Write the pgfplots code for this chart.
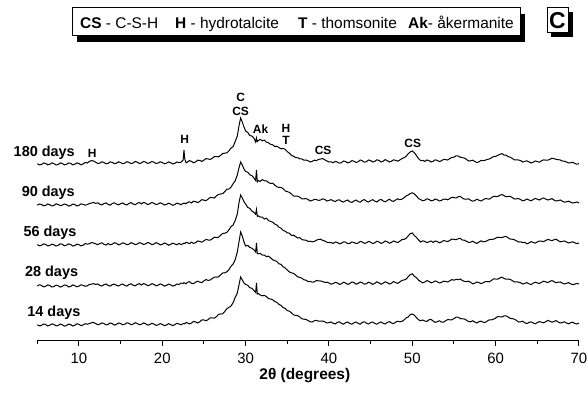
\documentclass[border=0pt]{standalone}
\usepackage{pgfplots}
\usepackage{pgfplotstable}
\pgfplotsset{compat=1.18}
\usepackage{fontspec}
\setmainfont{Liberation Sans}

\pgfplotstableread{
x d14 d28 d56 d90 d180
5 0.3 0.0 0.4 -0.2 0.3
5.25 -0.9 1.2 -0.8 1.0 -0.9
5.5 -0.4 0.6 -0.3 0.5 -0.5
5.75 1.0 -0.9 1.1 -0.8 1.0
6 0.5 -0.3 0.6 -0.4 0.6
6.25 -1.0 1.1 -0.9 1.0 -0.8
6.5 -0.2 0.5 -0.5 0.3 -0.2
6.75 1.1 -1.0 0.9 -1.0 1.1
7 0.6 -0.6 0.2 -0.5 0.4
7.25 -0.9 0.9 -1.0 1.1 -1.0
7.5 -0.5 0.3 -0.4 0.6 -0.6
7.75 1.0 -1.1 1.2 -0.7 1.1
8 0.2 -0.2 0.7 -0.1 0.5
8.25 -1.1 1.0 -0.8 1.0 -0.9
8.5 -0.6 0.7 -0.2 0.4 -0.3
8.75 0.9 -1.0 1.1 -1.1 1.0
9 0.4 -0.4 0.5 -0.6 0.7
9.25 -1.0 1.1 -1.0 0.9 -0.9
9.5 -0.3 0.4 -0.6 0.5 -0.2
9.75 1.2 -0.8 0.9 -1.0 1.1
10 0.7 -0.1 0.3 -0.3 0.4
10.25 -0.6 1.2 -0.9 1.1 -0.8
10.5 0.0 0.6 -0.2 0.7 0.1
10.75 1.3 -0.3 1.4 -0.2 1.5
11 0.8 0.2 0.9 0.4 1.0
11.25 1.4 1.6 1.2 1.5 2.6
11.5 2.2 1.8 2.4 2.0 3.4
11.75 2.6 2.4 2.0 2.6 3.0
12 1.4 1.5 1.2 1.6 1.8
12.25 0.3 2.1 0.4 2.2 0.5
12.5 0.9 0.6 1.4 0.8 0.9
12.75 2.1 0.0 2.2 0.1 2.2
13 1.5 1.3 0.7 1.4 1.5
13.25 0.1 2.0 -0.1 2.1 0.2
13.5 0.7 0.5 1.5 0.6 0.7
13.75 2.0 -0.1 0.2 -0.2 2.1
14 1.3 1.4 0.8 1.5 1.6
14.25 -0.1 1.9 2.3 2.2 0.3
14.5 0.6 0.7 1.6 0.9 0.8
14.75 2.1 0.0 0.1 0.1 2.2
15 1.4 1.2 0.9 1.3 1.4
15.25 0.2 2.0 2.2 2.1 0.3
15.5 0.8 0.6 1.5 0.6 0.9
15.75 2.2 -0.1 0.3 0.1 2.3
16 1.6 1.5 0.8 1.6 1.7
16.25 0.3 2.2 2.3 2.4 0.4
16.5 0.9 0.8 1.6 1.0 1.0
16.75 2.3 0.2 0.4 0.3 2.5
17 1.5 1.6 1.0 1.8 1.8
17.25 0.2 2.3 2.4 2.5 0.5
17.5 0.8 1.0 1.7 1.1 1.1
17.75 2.1 2.4 0.5 2.6 2.6
18 1.3 1.7 1.1 1.9 1.9
18.25 -0.1 0.3 2.5 0.4 0.6
18.5 0.5 1.0 1.8 1.2 1.2
18.75 1.7 2.3 0.3 2.5 2.5
19 0.9 1.6 1.0 1.7 1.8
19.25 -0.4 0.2 2.3 0.4 0.5
19.5 0.2 0.8 1.5 1.0 1.0
19.75 1.4 2.1 0.1 2.2 2.2
20 0.6 1.3 0.7 1.4 1.5
20.25 -0.7 -0.1 2.0 0.0 0.2
20.5 0.0 0.6 1.2 0.6 0.8
20.75 1.3 1.9 -0.2 1.8 2.1
21 0.5 1.2 0.6 1.0 1.3
21.25 -0.6 -0.1 1.9 -0.3 0.0
21.5 0.3 0.5 1.0 0.4 0.7
21.75 1.7 2.0 0.2 1.9 2.0
22 1.0 1.5 1.6 1.2 1.4
22.25 0.2 2.9 0.5 0.3 1.8
22.5 1.3 2.6 1.2 1.8 4.0
22.6 1.6 3.4 1.8 1.5 14.0
22.7 1.2 2.8 1.5 1.9 5.0
22.85 2.6 2.2 2.6 1.2 1.2
23 2.2 3.6 2.3 2.4 1.8
23.25 1.0 4.4 1.4 3.2 3.4
23.5 2.0 2.7 2.8 2.0 2.6
23.75 3.6 2.4 1.6 3.8 1.2
24 3.1 3.8 2.4 3.4 2.2
24.25 2.0 4.8 4.0 2.4 3.8
24.5 3.3 3.9 3.6 3.6 3.6
24.75 5.0 3.4 2.8 5.4 2.6
25 5.0 5.2 4.2 4.8 3.9
25.25 4.2 6.4 5.6 4.4 5.4
25.5 5.4 5.6 5.0 5.9 5.0
25.75 7.2 6.0 4.8 7.6 4.6
26 7.2 7.6 6.2 7.4 5.7
26.25 6.8 8.8 7.8 7.0 7.4
26.5 8.4 8.8 7.4 9.2 7.4
26.75 10.6 9.2 7.8 10.6 7.2
27 11.0 11.2 9.8 11.0 8.6
27.25 11.2 13.0 11.6 11.4 10.6
27.5 13.6 13.2 11.8 13.4 10.8
27.75 16.4 14.2 12.6 15.8 11.2
28 17.6 16.4 15.2 16.0 13.2
28.25 19.0 19.8 18.4 17.8 16.0
28.5 22.4 22.0 20.0 21.4 17.4
28.75 27.6 26.4 24.6 24.2 22.6
29 32.0 34.0 31.0 30.0 28.0
29.2 40.0 44.0 42.0 37.0 38.0
29.4 48.0 54.0 50.0 43.0 46.0
29.6 45.0 50.0 47.0 40.0 42.0
29.8 42.0 44.0 43.4 36.0 37.0
30 40.5 40.0 41.0 33.5 33.0
30.25 39.8 40.6 37.6 32.8 31.6
30.5 37.2 38.6 36.6 30.2 28.4
30.75 36.8 37.8 34.0 29.4 28.0
31 34.4 36.2 32.6 27.0 25.8
31.2 32.6 34.0 30.8 24.6 22.0
31.3 42.0 43.0 35.5 35.0 26.0
31.4 31.0 32.4 28.6 23.2 22.4
31.5 31.6 32.2 29.2 24.4 23.4
31.75 30.0 32.6 28.0 23.6 24.6
32 29.2 31.0 27.8 25.4 23.2
32.25 29.6 30.8 26.0 24.2 23.8
32.5 28.4 29.4 26.8 24.2 21.8
32.75 26.4 29.8 24.4 22.4 21.2
33 26.0 28.2 23.6 21.6 19.6
33.25 25.2 26.2 22.8 21.8 19.2
33.5 23.4 25.4 21.0 19.8 17.4
33.75 22.6 24.4 20.0 18.2 17.8
34 20.6 22.2 17.8 17.6 16.4
34.25 19.6 21.6 16.8 17.6 15.2
34.5 17.4 19.2 14.6 16.2 15.6
34.75 16.6 18.0 13.8 14.0 14.6
35 14.4 16.0 12.2 13.4 12.4
35.25 13.8 14.0 11.8 12.6 10.8
35.5 12.2 13.2 9.6 11.0 8.6
35.75 10.2 12.6 9.8 9.0 7.8
36 9.6 11.0 8.4 8.8 6.4
36.25 9.4 9.2 7.0 8.8 6.2
36.5 8.0 8.6 7.4 7.8 5.2
36.75 6.2 7.8 5.4 6.2 5.0
37 5.8 6.2 5.0 6.2 3.8
37.25 5.6 5.8 4.8 6.4 4.0
37.5 4.4 4.4 3.6 5.4 3.2
37.75 3.2 4.6 3.8 4.0 2.0
38 3.0 3.8 3.2 4.6 2.8
38.25 4.2 4.2 3.6 5.6 3.8
38.5 4.6 5.6 4.8 5.4 3.4
38.75 3.8 5.0 5.6 4.6 4.6
39 3.8 5.0 5.8 5.0 5.0
39.25 4.0 4.4 4.6 6.2 5.4
39.5 3.2 3.6 4.0 5.6 4.2
39.75 2.0 3.8 2.8 4.0 3.0
40 2.4 3.0 2.4 4.6 2.0
40.25 3.0 1.8 2.4 5.4 2.2
40.5 1.8 2.4 1.6 4.2 1.2
40.75 1.0 3.6 3.0 3.4 2.6
41 2.6 3.2 2.6 4.8 2.0
41.25 3.2 1.6 1.2 5.2 0.8
41.5 1.6 2.2 1.8 3.6 1.4
41.75 0.8 3.8 3.2 3.0 3.0
42 2.4 3.0 2.8 4.2 2.4
42.25 3.0 1.6 1.4 5.0 1.2
42.5 1.4 2.4 1.6 3.2 1.8
42.75 0.8 4.0 3.0 2.6 3.4
43 2.2 3.4 2.6 4.0 2.8
43.25 3.0 1.8 1.4 5.0 1.6
43.5 1.6 2.6 2.0 3.4 2.2
43.75 0.8 4.0 3.6 2.8 4.0
44 2.6 3.2 3.0 4.6 3.2
44.25 3.2 1.8 1.6 5.4 1.8
44.5 1.8 2.4 2.2 3.8 2.4
44.75 1.0 3.8 3.6 3.0 4.0
45 2.4 3.0 2.8 4.4 3.4
45.25 3.0 1.6 1.4 5.4 2.0
45.5 1.6 2.6 2.2 3.8 2.6
45.75 0.8 4.2 3.8 3.0 4.2
46 2.2 3.2 3.0 4.8 3.6
46.25 3.0 1.8 1.6 5.6 2.0
46.5 1.8 2.8 2.4 4.0 2.8
46.75 1.0 4.2 4.0 3.2 4.4
47 2.6 3.4 3.2 4.6 3.4
47.25 3.4 2.0 1.8 5.8 2.0
47.5 2.0 2.8 2.6 4.2 2.8
47.75 1.4 4.4 4.0 3.6 4.2
48 2.8 3.4 3.2 5.0 3.6
48.25 3.8 2.6 2.4 6.2 2.8
48.5 3.2 4.0 3.8 5.4 4.0
48.75 3.6 5.6 5.4 5.8 5.4
49 5.0 6.0 5.6 7.2 6.2
49.25 7.0 6.8 6.6 9.0 7.6
49.5 8.0 9.2 9.0 10.0 10.2
49.75 10.4 11.4 11.4 11.4 12.0
50 11.0 12.2 12.0 12.2 13.0
50.25 9.8 9.6 9.4 11.0 11.2
50.5 7.4 8.4 7.6 9.0 8.4
50.75 5.2 5.8 5.0 6.4 5.4
51 4.2 4.4 3.0 5.4 3.4
51.25 5.0 3.2 4.2 4.2 3.6
51.5 4.0 4.0 3.6 4.8 2.6
51.75 3.6 5.4 2.4 6.2 4.0
52 5.2 4.6 3.2 5.6 3.4
52.25 5.6 3.2 4.0 4.2 2.0
52.5 4.0 3.8 2.6 4.6 2.8
52.75 2.6 5.0 4.0 6.0 4.2
53 3.4 4.2 3.4 5.2 3.6
53.25 4.2 3.0 2.2 4.0 2.4
53.5 3.0 3.6 3.0 4.6 3.2
53.75 2.8 4.8 4.4 5.8 4.6
54 4.2 4.6 4.0 5.8 4.4
54.25 5.4 4.0 3.4 5.2 4.0
54.5 5.2 5.2 4.6 6.4 5.4
54.75 5.2 6.4 6.0 7.8 6.6
55 6.4 5.8 5.6 7.4 6.8
55.25 7.8 6.6 5.4 7.0 8.2
55.5 7.8 6.4 6.2 8.2 8.0
55.75 6.4 7.0 6.6 8.6 6.8
56 6.2 5.6 5.0 7.0 6.4
56.25 6.0 4.6 4.8 5.8 6.0
56.5 4.8 4.4 3.8 5.8 4.6
56.75 3.4 4.8 2.6 6.2 3.0
57 3.2 3.6 2.8 4.8 3.2
57.25 4.2 2.2 3.8 3.8 3.8
57.5 3.0 2.8 2.4 4.4 2.6
57.75 2.0 4.0 1.6 5.8 1.4
58 3.4 3.4 3.0 4.8 2.2
58.25 3.8 2.4 4.2 4.0 3.6
58.5 2.8 3.2 3.2 5.2 3.4
58.75 2.6 4.4 3.4 6.4 3.8
59 4.0 4.4 4.4 6.2 4.6
59.25 5.2 4.2 5.4 5.8 5.0
59.5 5.2 5.6 5.6 7.4 6.2
59.75 5.8 7.0 5.8 8.6 7.4
60 7.0 7.0 6.8 8.6 7.6
60.25 8.4 6.8 7.8 8.4 8.6
60.5 8.2 8.0 7.6 9.8 9.6
60.75 8.0 8.8 7.4 10.4 10.4
61 9.0 7.6 8.2 9.4 9.0
61.25 9.2 6.8 8.6 8.2 8.8
61.5 8.0 7.0 7.2 8.6 7.4
61.75 6.6 6.6 5.8 8.6 6.8
62 6.4 5.4 5.8 7.4 5.6
62.25 5.8 4.0 5.2 6.0 4.2
62.5 4.6 4.2 4.2 6.2 4.2
62.75 3.0 3.8 3.0 6.4 4.0
63 3.2 3.2 3.2 5.4 3.4
63.25 3.8 2.0 2.4 4.2 2.0
63.5 2.2 2.6 2.6 4.8 2.6
63.75 1.4 3.4 1.2 6.0 3.2
64 2.6 2.2 2.0 5.0 2.2
64.25 3.2 1.4 3.4 4.2 1.0
64.5 2.0 2.8 2.6 5.4 1.8
64.75 1.2 3.8 1.8 6.6 3.0
65 2.4 3.2 3.0 5.8 2.4
65.25 3.4 2.4 4.0 5.0 1.8
65.5 2.8 3.8 3.8 6.2 3.2
65.75 2.2 4.8 3.4 7.0 4.2
66 3.2 4.2 4.4 6.0 3.8
66.25 4.6 3.4 5.6 5.0 3.8
66.5 3.8 4.6 5.0 5.6 4.6
66.75 2.8 5.4 4.4 6.4 5.8
67 3.6 4.4 5.2 5.0 5.4
67.25 4.4 3.2 5.8 4.0 4.6
67.5 3.0 3.8 4.4 4.4 4.4
67.75 2.0 4.0 3.2 5.0 4.0
68 2.4 3.0 3.6 3.8 3.0
68.25 3.2 2.0 4.0 2.8 2.8
68.5 2.0 2.6 3.0 3.2 2.0
68.75 1.2 3.4 2.0 3.8 1.0
69 2.2 2.2 2.6 2.8 1.2
69.25 2.8 1.4 3.2 2.0 1.8
69.5 1.6 1.8 2.2 2.4 0.6
69.75 1.0 2.6 1.4 3.0 -0.2
70 1.8 2.0 2.0 2.0 0.4
}\xrd

\begin{document}
\begin{tikzpicture}
\useasboundingbox (0,0) rectangle (588bp,394bp);
\begin{axis}[
  at={(37.3bp,54bp)}, anchor=south west,
  x=8.3333bp, y=1bp,
  xmin=5, xmax=70, ymin=0, ymax=250,
  scale only axis, clip=false,
  axis x line*=bottom, axis y line=none,
  axis line style={line width=1bp},
  xtick={10,20,...,70},
  minor xtick={5,15,...,65},
  xtick align=outside,
  major tick length=6bp, minor tick length=4bp,
  every tick/.style={black, line width=1bp},
  ytick=\empty,
  /pgf/number format/assume math mode=true,
  xticklabel style={font=\fontsize{15}{18}\selectfont, yshift=-4bp},
  xlabel={\textbf{2θ (degrees)}},
  every axis x label/.style={at={(axis cs:37.1,0)}, anchor=center, yshift=-35.5bp, font=\fontsize{15.5}{18}\selectfont},
]
\addplot[black, line width=1bp] table[x=x, y expr=\thisrow{d14}+15] {\xrd};
\addplot[black, line width=1bp] table[x=x, y expr=\thisrow{d28}+54] {\xrd};
\addplot[black, line width=1bp] table[x=x, y expr=\thisrow{d56}+95] {\xrd};
\addplot[black, line width=1bp] table[x=x, y expr=\thisrow{d90}+135] {\xrd};
\addplot[black, line width=1bp] table[x=x, y expr=\thisrow{d180}+176] {\xrd};

\begin{scope}[every node/.style={font=\bfseries\fontsize{14.5}{17}\selectfont, anchor=east, inner sep=0pt}]
\node at (axis cs:9.52,187) {180 days};
\node at (axis cs:9.52,147) {90 days};
\node at (axis cs:9.73,107) {56 days};
\node at (axis cs:9.92,67) {28 days};
\node at (axis cs:10.2,27) {14 days};
\end{scope}

\begin{scope}[every node/.style={font=\bfseries\fontsize{12}{14}\selectfont, inner sep=0pt}]
\node at (axis cs:11.6,187) {H};
\node at (axis cs:22.7,200.7) {H};
\node at (axis cs:29.4,243) {C};
\node at (axis cs:29.4,229) {CS};
\node at (axis cs:31.8,211) {Ak};
\node at (axis cs:34.85,212) {H};
\node at (axis cs:34.85,200) {T};
\node at (axis cs:39.3,190) {CS};
\node at (axis cs:50.05,197) {CS};
\end{scope}
\end{axis}

% legend box with shadow
\fill[black] (76.5bp,352bp) rectangle (524.5bp,380bp);
\draw[fill=white, line width=0.8bp] (72bp,359bp) rectangle (520bp,387bp);
\begin{scope}[every node/.style={font=\fontsize{15.5}{18}\selectfont, anchor=base west, inner sep=0pt}]
\node at (80bp,365.7bp) {\textbf{CS} - C-S-H};
\node at (175bp,365.7bp) {\textbf{H} - hydrotalcite};
\node at (298bp,365.7bp) {\textbf{T} - thomsonite};
\node at (408bp,365.7bp) {\textbf{Ak}- åkermanite};
\end{scope}

% panel letter
\fill[black] (551bp,357bp) rectangle (573bp,382bp);
\draw[fill=white, line width=1bp] (547bp,361bp) rectangle (568bp,386bp);
\node[font=\bfseries\fontsize{23}{26}\selectfont, inner sep=0pt] at (557.5bp,373.5bp) {C};
\end{tikzpicture}
\end{document}
